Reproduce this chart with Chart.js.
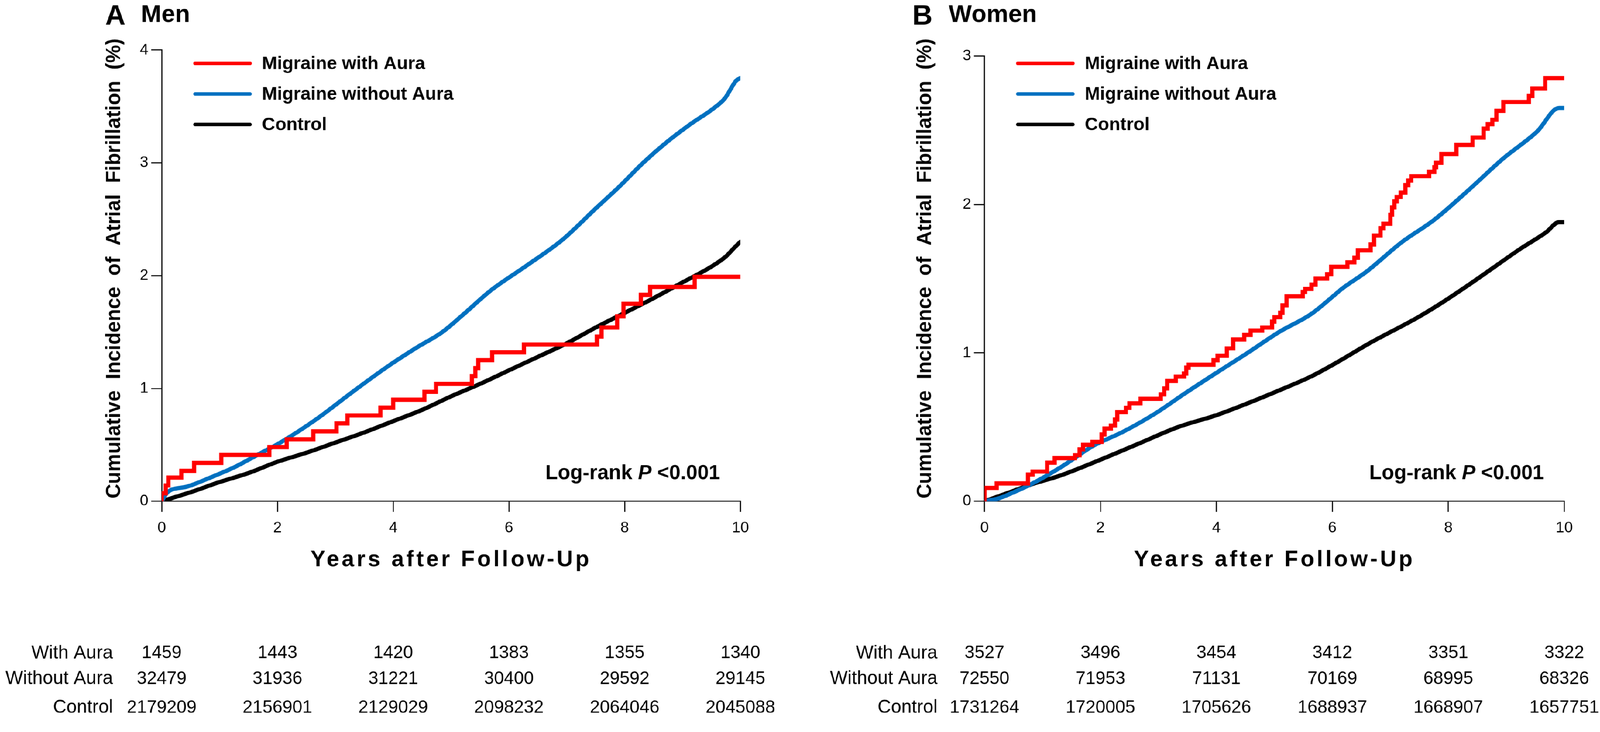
<!DOCTYPE html>
<html>
<head>
<meta charset="utf-8">
<script src="https://cdn.jsdelivr.net/npm/chart.js@4.4.1/dist/chart.umd.min.js"></script>
<style>
html, body { margin: 0; padding: 0; background: #fff; overflow: hidden; }
#wrap { position: absolute; left: 0; top: 0; width: 4562px; height: 2081px; background: #fff; transform-origin: 0 0; }
canvas { position: absolute; top: 0; }
#menChart { left: 0; }
#womenChart { left: 2281px; }
</style>
</head>
<body>
<div id="wrap">
  <canvas id="menChart" width="2281" height="2081"></canvas>
  <canvas id="womenChart" width="2281" height="2081"></canvas>
</div>
<script>
// x ticks (years) and the rows of the number-at-risk table
const yearTicks = [0, 2, 4, 6, 8, 10];
const seriesNames = ['Migraine with Aura', 'Migraine without Aura', 'Control'];
const riskRowLabels = ['With Aura', 'Without Aura', 'Control'];

const menWithAuraRisk = [1459, 1443, 1420, 1383, 1355, 1340];
const menWithoutAuraRisk = [32479, 31936, 31221, 30400, 29592, 29145];
const menControlRisk = [2179209, 2156901, 2129029, 2098232, 2064046, 2045088];
const womenWithAuraRisk = [3527, 3496, 3454, 3412, 3351, 3322];
const womenWithoutAuraRisk = [72550, 71953, 71131, 70169, 68995, 68326];
const womenControlRisk = [1731264, 1720005, 1705626, 1688937, 1668907, 1657751];

// curves as [year, cumulative incidence %]; the aura curves are steps (new level from that year on)
const menWithAura = [[0,0],[0,0.07],[0.07,0.14],[0.115,0.21],[0.34,0.27],[0.56,0.34],[1.03,0.41],[1.86,0.48],[2.16,0.55],[2.62,0.62],[3.02,0.69],[3.21,0.76],[3.78,0.83],[4.0,0.90],[4.54,0.97],[4.74,1.04],[5.36,1.11],[5.42,1.18],[5.47,1.25],[5.71,1.32],[6.26,1.39],[7.52,1.46],[7.6,1.54],[7.87,1.64],[7.98,1.75],[8.28,1.83],[8.44,1.90],[9.21,1.99],[10,1.99]];
const menWithoutAura = [[0,0],[0.1,0.08],[0.44,0.13],[0.84,0.21],[1.25,0.30],[1.65,0.41],[2.05,0.52],[2.68,0.73],[3.3,0.97],[3.92,1.20],[4.4,1.36],[4.85,1.50],[5.2,1.65],[5.69,1.87],[6.31,2.09],[6.93,2.32],[7.51,2.60],[7.91,2.79],[8.32,3.0],[8.72,3.18],[9.13,3.34],[9.53,3.48],[9.73,3.57],[9.93,3.73],[10,3.75]];
const menControl = [[0,0],[0.5,0.08],[1,0.17],[1.5,0.25],[2,0.35],[2.5,0.43],[3,0.52],[3.5,0.61],[4,0.71],[4.5,0.81],[5,0.93],[5.5,1.04],[6,1.16],[6.5,1.28],[7,1.40],[7.5,1.54],[8,1.67],[8.5,1.80],[9,1.94],[9.5,2.08],[9.75,2.17],[9.9,2.25],[10,2.30]];

const womenWithAura = [[0,0],[0,0.09],[0.21,0.12],[0.75,0.18],[0.83,0.20],[1.08,0.26],[1.21,0.29],[1.56,0.31],[1.64,0.35],[1.70,0.38],[1.86,0.40],[2.02,0.45],[2.07,0.49],[2.18,0.51],[2.25,0.55],[2.29,0.60],[2.44,0.63],[2.50,0.66],[2.69,0.69],[3.04,0.72],[3.10,0.76],[3.15,0.81],[3.30,0.84],[3.44,0.86],[3.48,0.90],[3.52,0.92],[3.95,0.95],[4.02,0.98],[4.18,1.03],[4.29,1.09],[4.48,1.12],[4.59,1.15],[4.79,1.17],[4.96,1.21],[5.0,1.24],[5.10,1.27],[5.14,1.32],[5.21,1.38],[5.49,1.41],[5.53,1.43],[5.64,1.46],[5.71,1.50],[5.91,1.53],[5.98,1.58],[6.26,1.61],[6.38,1.64],[6.44,1.69],[6.66,1.73],[6.72,1.79],[6.83,1.84],[6.88,1.87],[7.00,1.93],[7.03,1.98],[7.07,2.02],[7.11,2.05],[7.18,2.08],[7.26,2.13],[7.31,2.16],[7.36,2.19],[7.67,2.22],[7.76,2.25],[7.79,2.28],[7.88,2.34],[8.14,2.40],[8.42,2.45],[8.61,2.51],[8.68,2.54],[8.76,2.57],[8.83,2.63],[8.95,2.69],[9.39,2.73],[9.45,2.78],[9.67,2.85],[10,2.85]];
const womenWithoutAura = [[0,0],[0.25,0.02],[0.5,0.06],[0.78,0.11],[1.32,0.23],[1.86,0.37],[2.4,0.47],[2.94,0.59],[3.47,0.73],[4.02,0.87],[4.54,1.0],[5.08,1.14],[5.63,1.26],[6.01,1.38],[6.16,1.43],[6.6,1.55],[7.18,1.74],[7.77,1.90],[8.36,2.10],[8.95,2.31],[9.53,2.49],[9.91,2.65],[10,2.65]];
const womenControl = [[0,0],[0.5,0.07],[0.78,0.11],[1.32,0.175],[2,0.28],[2.67,0.39],[3.34,0.50],[4.0,0.58],[4.54,0.66],[5.1,0.75],[5.63,0.84],[6.1,0.94],[6.62,1.06],[7.48,1.24],[7.9,1.34],[8.36,1.46],[8.8,1.58],[9.24,1.70],[9.68,1.81],[9.91,1.88],[10,1.88]];

const FONT = '"Liberation Sans", Arial, Helvetica, sans-serif';
const colors = ['#ff0000', '#0070c0', '#000000'];
const DESIGN_W = 4562;
const DESIGN_H = 2081;

// stretch the design box onto the real viewport
const fitX = window.innerWidth / DESIGN_W;
const fitY = window.innerHeight / DESIGN_H;
document.getElementById('wrap').style.transform = 'scale(' + fitX + ',' + fitY + ')';
const pixelRatio = Math.max(fitX, fitY) * (window.devicePixelRatio || 1);

function toPoints(arr) {
  return arr.map(p => ({ x: p[0], y: p[1] }));
}

// draws titles, legend, axis titles, log-rank note and the at-risk table
const extrasPlugin = {
  id: 'extras',
  afterDraw(chart, args, opts) {
    const ctx = chart.ctx;
    const area = chart.chartArea;
    const xs = chart.scales.x;
    ctx.save();
    ctx.fillStyle = '#000';

    // panel letter + title
    ctx.textAlign = 'left';
    ctx.textBaseline = 'alphabetic';
    ctx.font = 'bold 80px ' + FONT;
    ctx.fillText(opts.letter, opts.letterX, 70);
    ctx.font = 'bold 70px ' + FONT;
    ctx.fillText(opts.title, opts.titleX, 62);

    // legend
    const legendY = [180, 267, 354];
    ctx.lineCap = 'round';
    ctx.lineWidth = 10;
    for (let i = 0; i < seriesNames.length; i++) {
      ctx.strokeStyle = colors[i];
      ctx.beginPath();
      ctx.moveTo(area.left + 95, legendY[i]);
      ctx.lineTo(area.left + 252, legendY[i]);
      ctx.stroke();
      ctx.font = 'bold 52px ' + FONT;
      ctx.textBaseline = 'middle';
      ctx.fillText(seriesNames[i], area.left + 286, legendY[i] + 2);
    }

    // y axis title
    ctx.save();
    ctx.translate(opts.yTitleX, 763);
    ctx.rotate(-Math.PI / 2);
    ctx.textAlign = 'center';
    ctx.textBaseline = 'middle';
    ctx.font = 'bold 57px ' + FONT;
    ctx.fillText('Cumulative  Incidence  of  Atrial  Fibrillation  (%)', 0, 0);
    ctx.restore();

    // x axis title
    ctx.save();
    ctx.textAlign = 'center';
    ctx.textBaseline = 'middle';
    ctx.font = 'bold 64px ' + FONT;
    if ('letterSpacing' in ctx) ctx.letterSpacing = '7px';
    ctx.fillText('Years after Follow-Up', (area.left + area.right) / 2, 1592);
    ctx.restore();

    // log-rank note, P in italics
    const parts = [['Log-rank ', 'bold'], ['P', 'italic bold'], [' <0.001', 'bold']];
    let total = 0;
    parts.forEach(p => { ctx.font = p[1] + ' 58px ' + FONT; total += ctx.measureText(p[0]).width; });
    let x = area.right - 58 - total;
    ctx.textAlign = 'left';
    ctx.textBaseline = 'middle';
    parts.forEach(p => {
      ctx.font = p[1] + ' 58px ' + FONT;
      ctx.fillText(p[0], x, 1346);
      x += ctx.measureText(p[0]).width;
    });

    // number at risk table
    const rowY = [1857, 1930, 2012];
    for (let r = 0; r < riskRowLabels.length; r++) {
      ctx.textAlign = 'right';
      ctx.font = '53px ' + FONT;
      ctx.fillText(riskRowLabels[r], opts.tableLabelX, rowY[r]);
      ctx.textAlign = 'center';
      ctx.font = '51px ' + FONT;
      opts.risk[r].forEach((n, i) => {
        ctx.fillText(String(n), xs.getPixelForValue(yearTicks[i]), rowY[r]);
      });
    }
    ctx.restore();
  }
};

function makePanel(canvasId, p) {
  const yWidth = 160;
  const xHeight = 120;
  const axisFont = { family: FONT, size: 44 };
  return new Chart(document.getElementById(canvasId), {
    type: 'line',
    data: {
      datasets: p.series.map((s, i) => ({
        label: seriesNames[i],
        data: toPoints(s),
        borderColor: colors[i],
        backgroundColor: colors[i],
        borderWidth: 12,
        borderCapStyle: 'round',
        borderJoinStyle: 'miter',
        pointRadius: 0,
        stepped: i === 0 ? 'before' : false,
        tension: i === 0 ? 0 : 0.3,
        cubicInterpolationMode: i === 0 ? 'default' : 'monotone',
        fill: false
      }))
    },
    options: {
      responsive: false,
      devicePixelRatio: pixelRatio,
      animation: false,
      layout: {
        padding: {
          left: p.area.left - yWidth,
          right: 2281 - p.area.right,
          top: p.area.top,
          bottom: DESIGN_H - p.area.bottom - xHeight
        }
      },
      plugins: {
        legend: { display: false },
        tooltip: { enabled: false },
        extras: p
      },
      scales: {
        x: {
          type: 'linear',
          min: 0,
          max: 10,
          afterFit: s => { s.height = xHeight; },
          afterBuildTicks: s => { s.ticks = yearTicks.map(v => ({ value: v })); },
          ticks: { font: axisFont, color: '#000', padding: 20, maxRotation: 0 },
          grid: { drawOnChartArea: false, drawTicks: true, tickLength: 30, lineWidth: 3, color: '#000' },
          border: { display: true, color: '#000', width: 3 }
        },
        y: {
          type: 'linear',
          min: 0,
          max: p.yMax,
          afterFit: s => { s.width = yWidth; },
          ticks: { stepSize: 1, font: axisFont, color: '#000', padding: 8 },
          grid: { drawOnChartArea: false, drawTicks: true, tickLength: 30, lineWidth: 3, color: '#000' },
          border: { display: true, color: '#000', width: 3 }
        }
      }
    },
    plugins: [extrasPlugin]
  });
}

makePanel('menChart', {
  letter: 'A', title: 'Men', letterX: 300, titleX: 402,
  yMax: 4,
  area: { left: 461, right: 2111, top: 142, bottom: 1425 },
  yTitleX: 326, tableLabelX: 322,
  series: [menWithAura, menWithoutAura, menControl],
  risk: [menWithAuraRisk, menWithoutAuraRisk, menControlRisk]
});

makePanel('womenChart', {
  letter: 'B', title: 'Women', letterX: 320, titleX: 424,
  yMax: 3,
  area: { left: 526, right: 2179, top: 159, bottom: 1425 },
  yTitleX: 358, tableLabelX: 392,
  series: [womenWithAura, womenWithoutAura, womenControl],
  risk: [womenWithAuraRisk, womenWithoutAuraRisk, womenControlRisk]
});
</script>
</body>
</html>
